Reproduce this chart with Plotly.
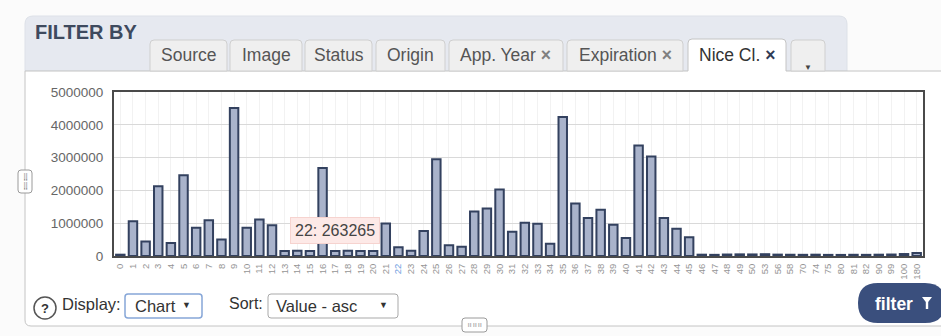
import plotly.graph_objects as go

# Nice class codes and the number of records per class
classes = [str(i) for i in range(46)] + [
    "46", "47", "48", "49", "50", "53", "56", "58", "70", "74",
    "75", "80", "81", "82", "90", "99", "100", "180",
]
counts = [
    40000, 1060000, 440000, 2130000, 400000, 2460000, 860000, 1090000, 500000, 4510000,
    860000, 1110000, 940000, 150000, 160000, 150000, 2680000, 150000, 160000, 150000,
    150000, 990000, 263265, 160000, 760000, 2950000, 330000, 280000, 1360000, 1450000,
    2030000, 740000, 1010000, 980000, 370000, 4240000, 1600000, 1160000, 1410000, 950000,
    550000, 3370000, 3030000, 1160000, 830000, 570000,
    40000, 35000, 45000, 50000, 48000, 55000, 42000, 38000, 36000, 40000,
    34000, 33000, 37000, 35000, 40000, 45000, 60000, 90000,
]
y_ticks = [0, 1000000, 2000000, 3000000, 4000000, 5000000]

tab_labels = ["Source", "Image", "Status", "Origin", "App. Year", "Expiration", "Nice Cl."]
tab_closable = [False, False, False, False, True, True, True]
hover_class = "22"

W, H = 941, 336
FONT = "Arial, 'Liberation Sans', sans-serif"


def X(px):
    return px / W


def Y(py):
    return 1 - py / H


def rrect_path(x0, y0, x1, y1, r, tl=True, tr=True, br=True, bl=True, close=True):
    rx, ry = r / W, r / H
    a, b, c, d = X(x0), Y(y0), X(x1), Y(y1)
    p = []
    if tl:
        p.append(f"M {a},{b - ry} Q {a},{b} {a + rx},{b}")
    else:
        p.append(f"M {a},{b}")
    if tr:
        p.append(f"L {c - rx},{b} Q {c},{b} {c},{b - ry}")
    else:
        p.append(f"L {c},{b}")
    if br:
        p.append(f"L {c},{d + ry} Q {c},{d} {c - rx},{d}")
    else:
        p.append(f"L {c},{d}")
    if bl:
        p.append(f"L {a + rx},{d} Q {a},{d} {a},{d + ry}")
    else:
        p.append(f"L {a},{d}")
    if close:
        p.append("Z")
    return " ".join(p)


def tab_outline(x0, y0, x1, y1, r):
    rx, ry = r / W, r / H
    a, b, c, d = X(x0), Y(y0), X(x1), Y(y1)
    return (f"M {a},{d} L {a},{b - ry} Q {a},{b} {a + rx},{b} "
            f"L {c - rx},{b} Q {c},{b} {c},{b - ry} L {c},{d}")


def label(x, y, text, size, color="#333333", anchor="left", family=FONT, **kw):
    return dict(xref="paper", yref="paper", x=X(x), y=Y(y), xanchor=anchor,
                yanchor="middle", text=text, showarrow=False,
                font=dict(family=family, size=size, color=color), **kw)


shapes = []
annotations = []

# header panel
shapes.append(dict(type="path", xref="paper", yref="paper", layer="below",
                   path=rrect_path(25, 16, 847, 71, 8, br=False, bl=False),
                   fillcolor="#e6e9f0", line=dict(color="#dde1e8", width=1)))
# content panel
shapes.append(dict(type="path", xref="paper", yref="paper", layer="below",
                   path=rrect_path(25, 71, 950, 326, 6, tl=False, tr=False),
                   fillcolor="#ffffff", line=dict(color="#c4c4c4", width=1)))

annotations.append(label(33, 32, "<b>FILTER BY</b>", 20, "#3e4a5e"))

# tabs
tab_boxes = [(150, 227), (230, 302), (305, 372), (376, 445), (449, 563), (567, 683), (688, 786)]
for name, closable, (t0, t1) in zip(tab_labels, tab_closable, tab_boxes):
    active = name == "Nice Cl."
    if active:
        shapes.append(dict(type="path", xref="paper", yref="paper", layer="below",
                           path=rrect_path(t0, 39, t1, 72, 4, br=False, bl=False),
                           fillcolor="#ffffff", line=dict(width=0)))
        shapes.append(dict(type="path", xref="paper", yref="paper", layer="below",
                           path=tab_outline(t0, 39, t1, 71, 4),
                           line=dict(color="#c4c4c4", width=1)))
    else:
        shapes.append(dict(type="path", xref="paper", yref="paper", layer="below",
                           path=rrect_path(t0, 40, t1, 71, 4, br=False, bl=False),
                           fillcolor="#efefef", line=dict(color="#cfcfcf", width=1)))
    txt_color = "#333333" if active else "#555555"
    x_color = "#2f3b55" if active else "#808080"
    text = name
    if closable:
        text += f" <span style='color:{x_color}'><b>×</b></span>"
    annotations.append(label((t0 + t1) / 2, 55, text, 17.5, txt_color, anchor="center"))

# overflow dropdown tab
shapes.append(dict(type="path", xref="paper", yref="paper", layer="below",
                   path=rrect_path(791, 40, 825, 71, 4, br=False, bl=False),
                   fillcolor="#efefef", line=dict(color="#cfcfcf", width=1)))
annotations.append(label(808, 68, "▼", 8, "#444444", anchor="center"))

# side and bottom resize handles
shapes.append(dict(type="path", xref="paper", yref="paper", layer="above",
                   path=rrect_path(18, 170, 32, 193, 3),
                   fillcolor="#ffffff", line=dict(color="#9a9a9a", width=1)))
annotations.append(label(25, 181.5, "⣿<br>⣿", 7, "#666666", anchor="center",
                         family="DejaVu Sans"))
shapes.append(dict(type="path", xref="paper", yref="paper", layer="above",
                   path=rrect_path(462, 318, 487, 332, 3),
                   fillcolor="#ffffff", line=dict(color="#9a9a9a", width=1)))
annotations.append(label(474.5, 325, "⠶⠶⠶", 7, "#666666", anchor="center",
                         family="DejaVu Sans"))

# bottom controls
shapes.append(dict(type="circle", xref="paper", yref="paper", layer="above",
                   x0=X(34), x1=X(56), y0=Y(319), y1=Y(297),
                   fillcolor="#ffffff", line=dict(color="#555555", width=1.5)))
annotations.append(label(45, 308.5, "<b>?</b>", 13, anchor="center"))
annotations.append(label(60, 304, "Display:", 16.5))
shapes.append(dict(type="path", xref="paper", yref="paper", layer="above",
                   path=rrect_path(125, 294, 202, 318, 3),
                   fillcolor="#ffffff", line=dict(color="#86a6d8", width=1.5)))
annotations.append(label(133, 306, "Chart", 16.5))
annotations.append(label(186, 305, "▼", 9, anchor="center"))
annotations.append(label(227, 303, "Sort:", 16))
shapes.append(dict(type="path", xref="paper", yref="paper", layer="above",
                   path=rrect_path(268, 294, 398, 318, 3),
                   fillcolor="#ffffff", line=dict(color="#a9a9a9", width=1)))
annotations.append(label(274, 306, "Value - asc", 16.5))
annotations.append(label(383, 305, "▼", 9, anchor="center"))

# filter button
shapes.append(dict(type="path", xref="paper", yref="paper", layer="above",
                   path=rrect_path(858, 283, 945, 323, 20),
                   fillcolor="#3a4f7d", line=dict(width=0)))
annotations.append(label(873, 303.5, "<b>filter</b>", 17.5, "#ffffff"))
fx0, fx1, fy0, fy1 = X(922), X(932), Y(297), Y(309)
fm = (fx0 + fx1) / 2
shapes.append(dict(type="path", xref="paper", yref="paper", layer="above",
                   path=(f"M {fx0},{fy0} L {fx1},{fy0} L {fm + 1.2 / W},{Y(302)} "
                         f"L {fm + 1.2 / W},{fy1} L {fm - 1.2 / W},{fy1} L {fm - 1.2 / W},{Y(302)} Z"),
                   fillcolor="#ffffff", line=dict(width=0)))

# hover tooltip for the highlighted class
hv = counts[classes.index(hover_class)]
annotations.append(label(290, 230, f"{hover_class}: {hv}", 16, "#444444",
                         bgcolor="#fde9e7", bordercolor="#f6d3cf", borderwidth=1,
                         borderpad=4))

tick_text = [
    f"<span style='color:#6f9de0'>{c}</span>" if c == hover_class else c for c in classes
]

fig = go.Figure()
fig.add_trace(go.Bar(
    x=classes, y=counts,
    marker=dict(color="#a9b3cb", line=dict(color="#33415f", width=2)),
    hoverinfo="skip",
))

fig.update_layout(
    width=W, height=H, autosize=False,
    margin=dict(l=0, r=0, t=0, b=0, pad=0, autoexpand=False),
    paper_bgcolor="#fbfbfb",
    plot_bgcolor="rgba(0,0,0,0)",
    showlegend=False,
    bargap=0.33,
    shapes=shapes,
    annotations=annotations,
    xaxis=dict(
        type="category", domain=[X(114), X(923)], automargin=False,
        tickmode="array", tickvals=classes, ticktext=tick_text,
        tickangle=-90, ticks="", ticklabelstandoff=2,
        tickfont=dict(family=FONT, size=9.5, color="#959595"),
        showgrid=True, gridcolor="#f2f2f2", gridwidth=1,
        showline=True, linecolor="#4a4a4a", linewidth=2, mirror=True,
        zeroline=False, fixedrange=True,
    ),
    yaxis=dict(
        domain=[Y(256), Y(92)], range=[0, 5000000], automargin=False,
        tickmode="array", tickvals=y_ticks, ticktext=[str(v) for v in y_ticks],
        tickfont=dict(family=FONT, size=13.5, color="#666666"),
        showgrid=True, gridcolor="#d9d9d9", gridwidth=1,
        showline=True, linecolor="#4a4a4a", linewidth=2, mirror=True,
        zeroline=False, ticks="", ticklabelstandoff=6, fixedrange=True,
    ),
)

fig.write_html("out.html", config={"displayModeBar": False})
